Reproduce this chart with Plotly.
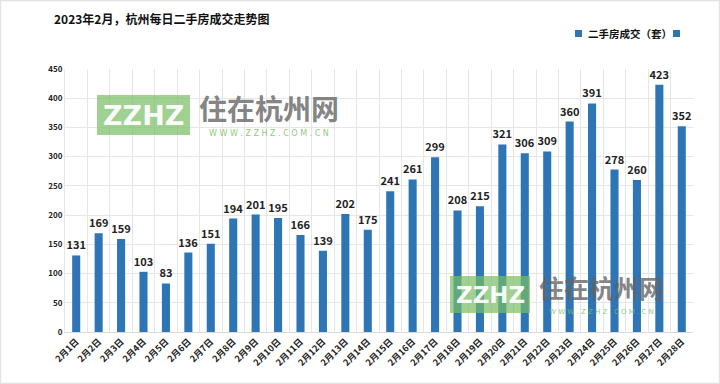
import plotly.graph_objects as go

days = [f"2月{i}日" for i in range(1, 29)]
values = [131, 169, 159, 103, 83, 136, 151, 194, 201, 195, 166, 139, 202, 175,
          241, 261, 299, 208, 215, 321, 306, 309, 360, 391, 278, 260, 423, 352]
y_ticks = [0, 50, 100, 150, 200, 250, 300, 350, 400, 450]
title_text = "2023年2月，杭州每日二手房成交走势图"
series_name = "二手房成交（套）"

FONT = "Noto Sans CJK SC"
BLUE = "#2E75B6"

# plot area in pixels
L, R, T, B = 65, 27, 69, 52
W, H = 720, 384
PW, PH = W - L - R, H - T - B


def px(x):
    return (x - L) / PW


def py(y):
    return (H - B - y) / PH


fig = go.Figure()
fig.add_trace(go.Bar(
    x=days, y=values, name=series_name,
    marker=dict(color=BLUE, line=dict(width=0)),
    width=0.36,
    texttemplate="<b>%{y}</b>", textposition="outside", constraintext="none",
    textfont=dict(family=FONT, size=11, color="#222222"),
    cliponaxis=False, showlegend=False,
))

shapes = [
    dict(type="rect", xref="paper", yref="paper", x0=px(0.5), x1=px(719.5), y0=py(383.5), y1=py(0.5),
         line=dict(color="#e3e3e3", width=1.5), fillcolor="rgba(0,0,0,0)", layer="below"),
]
annotations = []

# legend (drawn manually to match the compact original)
for sx in (578, 676):
    shapes.append(dict(type="rect", xref="paper", yref="paper",
                       x0=px(sx - 3), x1=px(sx + 4), y0=py(37), y1=py(30),
                       line=dict(width=0), fillcolor=BLUE))
annotations.append(dict(text=f"<b>{series_name}</b>", x=px(586), y=py(33.5), xref="paper", yref="paper",
                        xanchor="left", yanchor="middle", showarrow=False,
                        font=dict(family=FONT, size=10.5, color="#111111")))


def watermark(x0, x1, y0, y1, tx, ty_main, ty_sub, box_font, main_font, sub_font):
    shapes.append(dict(type="rect", xref="paper", yref="paper",
                       x0=px(x0), x1=px(x1), y0=py(y1), y1=py(y0),
                       line=dict(width=0), fillcolor="rgba(120,190,100,0.7)",
                       layer="above"))
    annotations.append(dict(text="<b>ZZHZ</b>", x=px((x0 + x1) / 2), y=py((y0 + y1) / 2),
                            xref="paper", yref="paper", showarrow=False,
                            xanchor="center", yanchor="middle",
                            font=dict(family="DejaVu Sans", size=box_font, color="rgba(255,255,255,0.95)")))
    annotations.append(dict(text="<b>住在杭州网</b>", x=px(tx), y=py(ty_main),
                            xref="paper", yref="paper", showarrow=False,
                            xanchor="center", yanchor="middle",
                            font=dict(family=FONT, size=main_font, color="rgba(100,100,100,0.8)")))
    annotations.append(dict(text="W W W . Z Z H Z . C O M . C N", x=px(tx), y=py(ty_sub),
                            xref="paper", yref="paper", showarrow=False,
                            xanchor="center", yanchor="middle",
                            font=dict(family="DejaVu Sans", size=sub_font, color="rgba(120,190,100,0.85)")))


watermark(97, 190, 95, 135, 269, 108, 133, 27, 28, 8)
watermark(450, 530, 276, 313, 601, 287, 312, 23, 25, 7)

annotations.append(dict(text=f"<b>{title_text}</b>", x=px(52), y=py(19), xref="paper", yref="paper",
                        xanchor="left", yanchor="middle", showarrow=False,
                        font=dict(family=FONT, size=12, color="#111111")))

fig.update_layout(
    width=W, height=H,
    margin=dict(l=L, r=R, t=T, b=B),
    paper_bgcolor="white", plot_bgcolor="white",
    bargap=0.64,
    showlegend=False,
    font=dict(family=FONT),
    shapes=shapes, annotations=annotations,
    xaxis=dict(type="category", tickangle=-45, tickson="boundaries", ticks="",
               showgrid=True, gridcolor="#e6e6e6", gridwidth=1,
               showline=True, linecolor="#d9d9d9",
               tickfont=dict(family=FONT, size=9, color="#222222"),
               tickvals=days, ticktext=[f"<b>{d}</b>" for d in days]),
    yaxis=dict(range=[0, 450], tickvals=y_ticks, ticktext=[f"<b>{v}</b>" for v in y_ticks],
               showgrid=True, gridcolor="#e6e6e6",
               zeroline=False, showline=True, linecolor="#e6e6e6",
               tickfont=dict(family=FONT, size=8, color="#222222"), ticklen=0),
)

fig.write_html("out.html", config={"displayModeBar": False},
               post_script="document.body.style.margin='0';")
